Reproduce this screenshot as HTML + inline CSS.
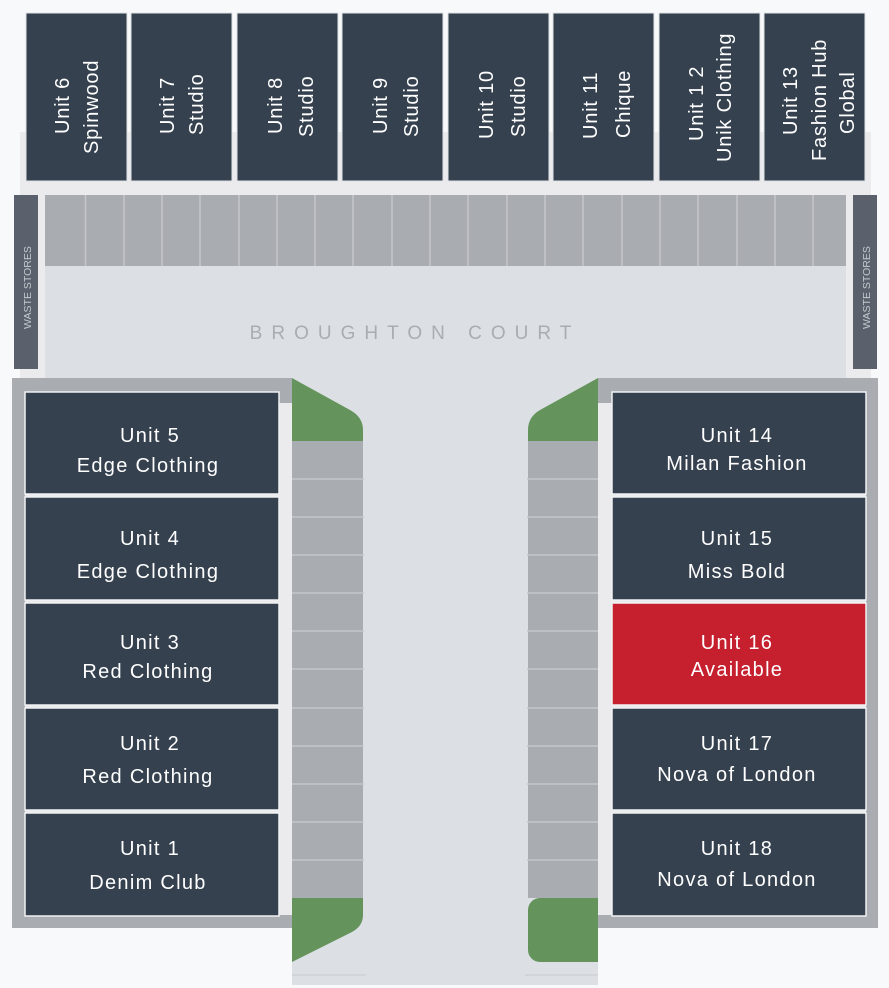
<!DOCTYPE html>
<html><head><style>html,body{margin:0;padding:0;background:#f8f9fb}svg{display:block}</style></head><body>
<svg width="889" height="988" viewBox="0 0 889 988" xmlns="http://www.w3.org/2000/svg" font-family="'Liberation Sans',sans-serif">
<rect width="889" height="988" fill="#f8f9fb"/>
<rect x="20" y="132" width="851" height="246" fill="#ebebed"/>
<g fill="#35414f" stroke="#dfe2e6" stroke-width="1">
<rect x="26" y="13" width="101" height="168"/><rect x="131" y="13" width="101" height="168"/>
<rect x="237" y="13" width="101" height="168"/><rect x="342" y="13" width="101" height="168"/>
<rect x="448" y="13" width="101" height="168"/><rect x="553" y="13" width="101" height="168"/>
<rect x="659" y="13" width="101" height="168"/><rect x="764" y="13" width="101" height="168"/>
</g>
<g fill="#fff" font-size="20" letter-spacing="0.8">
<text transform="translate(69,134) rotate(-90)">Unit 6</text><text transform="translate(98,154) rotate(-90)">Spinwood</text>
<text transform="translate(174,134) rotate(-90)">Unit 7</text><text transform="translate(203,135) rotate(-90)">Studio</text>
<text transform="translate(282,134) rotate(-90)">Unit 8</text><text transform="translate(313,137) rotate(-90)">Studio</text>
<text transform="translate(387,134) rotate(-90)">Unit 9</text><text transform="translate(418,137) rotate(-90)">Studio</text>
<text transform="translate(493,139) rotate(-90)">Unit 10</text><text transform="translate(525,137) rotate(-90)">Studio</text>
<text transform="translate(597,139) rotate(-90)">Unit 11</text><text transform="translate(630,138) rotate(-90)">Chique</text>
<text transform="translate(703,141) rotate(-90)">Unit 1 2</text><text transform="translate(731,162) rotate(-90)">Unik Clothing</text>
<text transform="translate(797,135) rotate(-90)">Unit 13</text><text transform="translate(826,161) rotate(-90)">Fashion Hub</text><text transform="translate(854,134) rotate(-90)">Global</text>
</g>
<rect x="14" y="195" width="24" height="174" fill="#5a616c"/>
<rect x="853" y="195" width="24" height="174" fill="#5a616c"/>
<text transform="translate(31,329) rotate(-90)" fill="#c5c9ce" font-size="10.5">WASTE STORES</text>
<text transform="translate(870,329) rotate(-90)" fill="#c5c9ce" font-size="10.5">WASTE STORES</text>
<rect x="45" y="195" width="801" height="71" fill="#a9acb0"/>
<g stroke="#c4c7cb" stroke-width="1.5">
<line x1="85.5" y1="195" x2="85.5" y2="266"/><line x1="124" y1="195" x2="124" y2="266"/><line x1="162" y1="195" x2="162" y2="266"/><line x1="200" y1="195" x2="200" y2="266"/><line x1="239" y1="195" x2="239" y2="266"/><line x1="277" y1="195" x2="277" y2="266"/><line x1="315" y1="195" x2="315" y2="266"/><line x1="353" y1="195" x2="353" y2="266"/><line x1="392" y1="195" x2="392" y2="266"/><line x1="430" y1="195" x2="430" y2="266"/><line x1="468" y1="195" x2="468" y2="266"/><line x1="507" y1="195" x2="507" y2="266"/><line x1="545" y1="195" x2="545" y2="266"/><line x1="583" y1="195" x2="583" y2="266"/><line x1="622" y1="195" x2="622" y2="266"/><line x1="660" y1="195" x2="660" y2="266"/><line x1="698" y1="195" x2="698" y2="266"/><line x1="737" y1="195" x2="737" y2="266"/><line x1="775" y1="195" x2="775" y2="266"/><line x1="813" y1="195" x2="813" y2="266"/>
</g>
<rect x="45" y="266" width="801" height="112" fill="#dce0e4"/>
<rect x="292" y="378" width="306" height="607" fill="#dce0e4"/>
<line x1="292" y1="975" x2="366" y2="975" stroke="#cdd0d4" stroke-width="1.5"/>
<line x1="525" y1="975" x2="598" y2="975" stroke="#cdd0d4" stroke-width="1.5"/>
<text x="415" y="339" fill="#a9acb0" font-size="19" text-anchor="middle" letter-spacing="9">BROUGHTON COURT</text>
<rect x="12" y="378" width="280" height="550" fill="#a9acb0"/>
<rect x="25" y="403" width="267" height="512" fill="#ebebed"/>
<rect x="598" y="378" width="280" height="550" fill="#a9acb0"/>
<rect x="598" y="403" width="268" height="512" fill="#ebebed"/>
<rect x="292" y="441" width="71" height="457" fill="#a9acb0"/>
<rect x="528" y="441" width="70" height="457" fill="#a9acb0"/>
<g stroke="#c4c7cb" stroke-width="1.5">
<line x1="292" y1="479" x2="364" y2="479"/><line x1="292" y1="517" x2="364" y2="517"/><line x1="292" y1="555" x2="364" y2="555"/><line x1="292" y1="593" x2="364" y2="593"/><line x1="292" y1="631" x2="364" y2="631"/><line x1="292" y1="669" x2="364" y2="669"/><line x1="292" y1="708" x2="364" y2="708"/><line x1="292" y1="746" x2="364" y2="746"/><line x1="292" y1="784" x2="364" y2="784"/><line x1="292" y1="822" x2="364" y2="822"/><line x1="292" y1="860" x2="364" y2="860"/>
<line x1="527" y1="479" x2="598" y2="479"/><line x1="527" y1="517" x2="598" y2="517"/><line x1="527" y1="555" x2="598" y2="555"/><line x1="527" y1="593" x2="598" y2="593"/><line x1="527" y1="631" x2="598" y2="631"/><line x1="527" y1="669" x2="598" y2="669"/><line x1="527" y1="708" x2="598" y2="708"/><line x1="527" y1="746" x2="598" y2="746"/><line x1="527" y1="784" x2="598" y2="784"/><line x1="527" y1="822" x2="598" y2="822"/><line x1="527" y1="860" x2="598" y2="860"/>
</g>
<g fill="#65935c">
<path d="M292 378 L350 410 Q363 417 363 430 L363 441 L292 441 Z"/>
<path d="M598 378 L540 410 Q528 417 528 430 L528 441 L598 441 Z"/>
<path d="M292 898 L363 898 L363 915 Q363 926 352 932 L292 962 Z"/>
<rect x="528" y="898" width="70" height="64" rx="12"/>
<rect x="586" y="898" width="12" height="64"/>
</g>
<g stroke="#f0f1f3" stroke-width="1.5">
<rect x="25" y="392" width="254" height="102" fill="#35414f"/>
<rect x="25" y="497" width="254" height="103" fill="#35414f"/>
<rect x="25" y="603" width="254" height="102" fill="#35414f"/>
<rect x="25" y="708" width="254" height="102" fill="#35414f"/>
<rect x="25" y="813" width="254" height="103" fill="#35414f"/>
<rect x="612" y="392" width="254" height="102" fill="#35414f"/>
<rect x="612" y="497" width="254" height="103" fill="#35414f"/>
<rect x="612" y="603" width="254" height="102" fill="#c6202f"/>
<rect x="612" y="708" width="254" height="102" fill="#35414f"/>
<rect x="612" y="813" width="254" height="103" fill="#35414f"/>
</g>
<g fill="#fff" font-size="20" text-anchor="middle" letter-spacing="1.3">
<text x="150" y="442">Unit  5</text><text x="148" y="472">Edge Clothing</text>
<text x="150" y="545">Unit  4</text><text x="148" y="578">Edge Clothing</text>
<text x="150" y="649">Unit  3</text><text x="148" y="678">Red Clothing</text>
<text x="150" y="750">Unit  2</text><text x="148" y="783">Red Clothing</text>
<text x="150" y="855">Unit  1</text><text x="148" y="889">Denim Club</text>
<text x="737" y="442">Unit  14</text><text x="737" y="470">Milan Fashion</text>
<text x="737" y="545">Unit  15</text><text x="737" y="578">Miss Bold</text>
<text x="737" y="649">Unit  16</text><text x="737" y="676">Available</text>
<text x="737" y="750">Unit  17</text><text x="737" y="781">Nova of London</text>
<text x="737" y="855">Unit  18</text><text x="737" y="886">Nova of London</text>
</g>
</svg>
</body></html>
